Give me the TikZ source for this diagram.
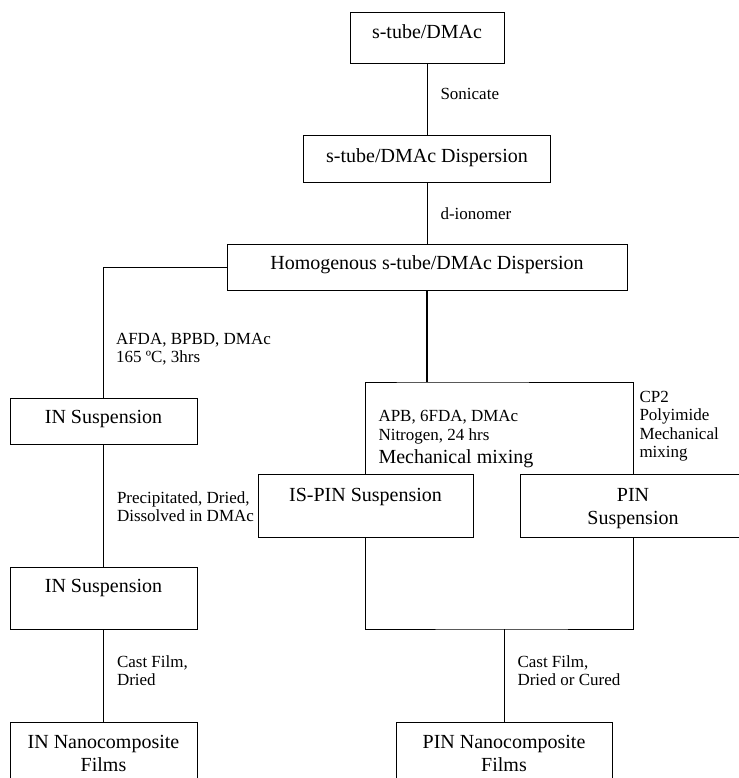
\documentclass[tikz,border=0pt]{standalone}
\usepackage{fontspec}
\setmainfont{Liberation Serif}
\usetikzlibrary{positioning}

\tikzset{
	stage/.style={draw=black, line width=1pt, inner sep=0pt, align=center, font=\fontsize{20}{23}\selectfont},
	cond/.style={draw=none, inner sep=0pt, align=left, anchor=base west, font=\fontsize{17}{18.5}\selectfont}
}

\begin{document}
\begin{tikzpicture}[x=1pt,y=-1pt,line width=1pt]
			\useasboundingbox (0,0) rectangle (738,778);
			\node [stage, minimum width=154pt, text height=26pt, text depth=25pt] (tube) at (427,38.5) {s-tube/DMAc};
			\node [stage, minimum width=247pt, text height=27pt, text depth=19pt] (disp) at (427,159) {s-tube/DMAc Dispersion};
			\node [stage, minimum width=400pt, text height=25pt, text depth=21pt] (homog) at (427,267) {Homogenous s-tube/DMAc Dispersion};
			\node [stage, minimum width=187pt, text height=25pt, text depth=21pt] (in1) at (103.5,421) {IN Suspension};
			\node [stage, minimum width=187pt, text height=25pt, text depth=37pt] (in2) at (103.5,598) {IN Suspension};
			\node [stage, minimum width=187pt, text height=49pt, text depth=21pt] (infilm) at (103.5,757) {IN Nanocomposite\\Films};
			\node [stage, minimum width=215pt, text height=27pt, text depth=36pt] (ispin) at (365.5,505.5) {IS-PIN Suspension};
			\node [stage, minimum width=226pt, text height=50pt, text depth=13pt] (pin) at (633,505.5) {PIN\\Suspension};
			\node [stage, minimum width=216pt, text height=49pt, text depth=21pt] (pinfilm) at (504,757) {PIN Nanocomposite\\Films};
			\coordinate (split) at (427,382);
			\coordinate (merge) at (504,629);

			\draw (tube) -- node[cond, pos=.486, xshift=13pt] {Sonicate} (disp);
			\draw (disp) -- node[cond, pos=.613, xshift=13pt] {d-ionomer} (homog);
			\draw (homog) -| node[cond, pos=.866, xshift=12pt] {AFDA, BPBD, DMAc\\165 ºC, 3hrs} (in1);
			\draw (in1) -- node[cond, pos=.634, xshift=13pt] {Precipitated, Dried,\\Dissolved in DMAc} (in2);
			\draw (in2) -- node[cond, pos=.613, xshift=13pt] {Cast Film,\\Dried} (infilm);
			\draw[line width=2pt] (homog) -- (split);
			\draw (ispin) |- node[cond, pos=.054, xshift=12.5pt] {APB, 6FDA, DMAc\\Nitrogen, 24 hrs\\[5pt]{\fontsize{20}{23}\selectfont Mechanical mixing}} (split)
			-| node[cond, pos=.913, xshift=6pt] {CP2\\Polyimide\\Mechanical\\mixing} (pin);
			\draw (ispin) |- (merge) -| (pin);
			\draw (merge) -- node[cond, pos=.613, xshift=13pt] {Cast Film,\\Dried or Cured} (pinfilm);
		\end{tikzpicture}
\end{document}
